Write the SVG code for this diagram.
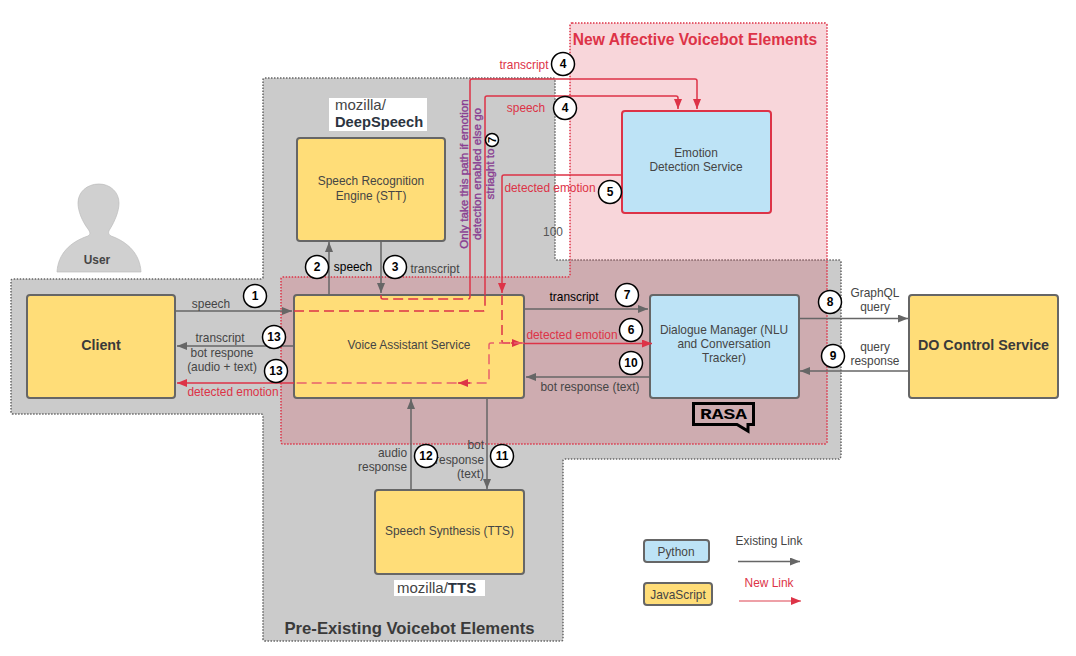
<svg xmlns="http://www.w3.org/2000/svg" width="1076" height="656" viewBox="0 0 1076 656">
<style>
text{font-family:"Liberation Sans",Arial,sans-serif;font-size:11.9px;fill:#454545;text-anchor:middle}
.k{fill:#000}.r{fill:#dd3347}.b{font-weight:bold}
.y{fill:#ffdd78;stroke:#666;stroke-width:2}
.c{fill:#bde3f6;stroke:#666;stroke-width:2}
.g{fill:none;stroke:#666;stroke-width:1.5}
.gm{marker-end:url(#ag)}
.s{fill:none;stroke:#dd3347;stroke-width:1.5}
.sm{marker-end:url(#ar)}
.d{fill:none;stroke:#dd3347;stroke-width:1.5;stroke-dasharray:10 5}
.n circle{fill:#fff;stroke:#000;stroke-width:1.5}
.n text{font-weight:bold;fill:#000;font-size:12px}
.p{fill:#8a3f92;font-size:11.6px;stroke:#8a3f92;stroke-width:.35}
</style>
<defs>
<marker id="ag" markerWidth="11" markerHeight="8" refX="10" refY="4" orient="auto" markerUnits="userSpaceOnUse"><path d="M0 0L10 4L0 8z" fill="#666"/></marker>
<marker id="ar" markerWidth="11" markerHeight="8" refX="10" refY="4" orient="auto" markerUnits="userSpaceOnUse"><path d="M0 0L10 4L0 8z" fill="#dd3347"/></marker>
</defs>
<rect width="1076" height="656" fill="#fff"/>
<g id="regions">
<path id="pre-existing" d="M265 78H553Q555 78 555 80V258Q555 260 557 260H839Q841 260 841 262V456Q841 458 839 458V459H565Q563 459 563 461V639Q563 641 561 641H265Q263 641 263 639V416Q263 414 261 414H13Q11 414 11 412V281Q11 279 13 279H261Q263 279 263 277V80Q263 78 265 78Z" fill="#cbcbcb" stroke="#666" stroke-width="1.5" stroke-dasharray="1.5 1.5"/>
<path id="new-affective" d="M572 23H825Q827 23 827 25V442Q827 444 825 444H283Q281 444 281 442V279Q281 277 283 277H568Q570 277 570 275V25Q570 23 572 23Z" fill="#dd3347" fill-opacity=".2" stroke="#dd3347" stroke-width="1.5" stroke-dasharray="1.5 1.5"/>
<text x="695" y="45" class="r b" style="font-size:15.600px">New Affective Voicebot Elements</text>
<text x="409.500" y="634" class="b" style="font-size:16.700px;fill:#3a3a3a">Pre-Existing Voicebot Elements</text>
<text x="553" y="236" style="fill:#555">100</text>
</g>
<g id="user">
<path d="M57 272C58 254 70 242 88 236C91 234 90 232 88 229C82 221 78 211 78 203C78 192 87 184 99 184C110 184 119 192 119 203C119 211 115 221 110 229C108 232 108 234 111 236C128 242 140 254 141 272Z" fill="#d0d0d0" stroke="#bbb" stroke-width=".7"/>
<text x="97" y="264" class="b">User</text>
</g>
<g id="client"><rect class="y" x="27" y="295" width="148" height="103" rx="3"/><text x="101" y="350" class="b" style="font-size:14.300px;fill:#3a3a3a">Client</text></g>
<g id="stt"><rect class="y" x="297" y="138" width="148" height="103" rx="3"/><text x="371" y="185">Speech Recognition</text><text x="371" y="200">Engine (STT)</text></g>
<g id="deepspeech"><rect x="329" y="98" width="98" height="33" fill="#fff"/><text x="335" y="110" style="font-size:15px;text-anchor:start">mozilla/</text><text x="335" y="127" class="b" style="font-size:14.700px;text-anchor:start;fill:#2b3440">DeepSpeech</text></g>
<g id="vas"><rect class="y" x="294" y="295" width="230" height="103" rx="3"/><text x="409" y="348.500">Voice Assistant Service</text></g>
<g id="emotion"><rect x="622" y="111" width="149" height="102" rx="3" fill="#bde3f6" stroke="#dd3347" stroke-width="2"/><text x="696" y="157">Emotion</text><text x="696" y="171">Detection Service</text></g>
<g id="dm"><rect class="c" x="650" y="295" width="149" height="103" rx="3"/><text x="724" y="334">Dialogue Manager (NLU</text><text x="724" y="348">and Conversation</text><text x="724" y="362">Tracker)</text></g>
<g id="rasa"><path d="M693.500 403.500H753.500V424.500H748V431L737 424.500H693.500Z" fill="none" stroke="#000" stroke-width="3"/><text transform="translate(723.500 419) scale(1.3 1)" class="k b" style="font-family:'Liberation Mono',monospace;font-size:15px">RASA</text></g>
<g id="do"><rect class="y" x="909" y="295" width="149" height="103" rx="3"/><text x="983.500" y="350" class="b" style="font-size:14.300px;fill:#3a3a3a">DO Control Service</text></g>
<g id="tts"><rect class="y" x="375" y="490" width="149" height="84" rx="3"/><text x="449.500" y="535">Speech Synthesis (TTS)</text></g>
<g id="mozilla-tts"><rect x="394" y="580" width="91" height="16" fill="#fff"/><text x="397" y="593" style="font-size:15px;text-anchor:start">mozilla/<tspan style="font-weight:bold;fill:#2b3440">TTS</tspan></text></g>
<g id="connectors">
<path class="g gm" d="M175 311H292"/>
<path class="g gm" d="M329 295V242"/>
<path class="g gm" d="M381 241V293"/>
<path class="g gm" d="M294 346H177"/>
<path class="g gm" d="M524 309H648"/>
<path class="g gm" d="M650 377H526"/>
<path class="g gm" d="M799 318.500H908"/>
<path class="g gm" d="M909 371H800"/>
<path class="g gm" d="M411 490V399"/>
<path class="g gm" d="M487 398V489"/>
<path class="d" d="M381 295V297Q381 299 383 299H468Q470 299 470 297V295"/>
<path class="s sm" d="M470 295V81Q470 79 472 79H695Q697 79 697 81V109"/>
<path class="d" d="M294 311H483Q485 311 485 309V295"/>
<path class="s sm" d="M485 295V98Q485 96 487 96H676Q678 96 678 98V109"/>
<path class="s sm" d="M622 175H504Q502 175 502 177V293"/>
<path class="d" d="M502 295V341Q502 343 504 343H511"/>
<path class="s sm" d="M511 343H522"/>
<path class="s sm" d="M524 343.500H652"/>
<path class="d" style="stroke:#e8606c" d="M524 343H491Q489 343 489 345V381Q489 383 487 383H294"/>
<path class="s sm" d="M470 383H458"/>
<path class="s sm" d="M294 383H177"/>
</g>
<g id="labels">
<text x="211" y="308">speech</text>
<text x="220" y="342">transcript</text>
<text x="222" y="357">bot respone</text>
<text x="222" y="371">(audio + text)</text>
<text x="233" y="396" class="r">detected emotion</text>
<text x="353" y="271" class="k">speech</text>
<text x="435" y="273">transcript</text>
<text x="524" y="69" class="r">transcript</text>
<text x="526" y="112" class="r">speech</text>
<text x="550" y="192" class="r">detected emotion</text>
<text x="574" y="301" class="k">transcript</text>
<text x="572" y="339" class="r">detected emotion</text>
<text x="590" y="391">bot response (text)</text>
<text x="875" y="297">GraphQL</text>
<text x="875" y="311">query</text>
<text x="875" y="351">query</text>
<text x="875" y="365">response</text>
<text x="407" y="457" style="text-anchor:end">audio</text>
<text x="407" y="471" style="text-anchor:end">response</text>
<text x="484" y="449" style="text-anchor:end">bot</text>
<text x="484" y="464" style="text-anchor:end">response</text>
<text x="484" y="478" style="text-anchor:end">(text)</text>
<text transform="translate(468 174) rotate(-90)" class="p">Only take this path if emotion</text>
<text transform="translate(481 174) rotate(-90)" class="p">detection enabled else go</text>
<text transform="translate(494 174) rotate(-90)" class="p">striaght to</text>
</g>
<g id="badges" class="n">
<g><circle cx="255" cy="296" r="11.500"/><text x="255" y="300">1</text></g>
<g><circle cx="317" cy="267" r="11.500"/><text x="317" y="271">2</text></g>
<g><circle cx="395" cy="267" r="11.500"/><text x="395" y="271">3</text></g>
<g><circle cx="563" cy="64" r="11.500"/><text x="563" y="68">4</text></g>
<g><circle cx="565" cy="108" r="11.500"/><text x="565" y="112">4</text></g>
<g><circle cx="610" cy="192" r="11.500"/><text x="610" y="196">5</text></g>
<g><circle cx="274" cy="337" r="11.500"/><text x="274" y="341">13</text></g>
<g><circle cx="276" cy="371" r="11.500"/><text x="276" y="375">13</text></g>
<g><circle cx="627" cy="295" r="11.500"/><text x="627" y="299">7</text></g>
<g><circle cx="631" cy="330" r="11.500"/><text x="631" y="334">6</text></g>
<g><circle cx="631" cy="363" r="11.500"/><text x="631" y="367">10</text></g>
<g><circle cx="830" cy="302" r="11.500"/><text x="830" y="306">8</text></g>
<g><circle cx="833" cy="356" r="11.500"/><text x="833" y="360">9</text></g>
<g><circle cx="426" cy="456" r="11.500"/><text x="426" y="460">12</text></g>
<g><circle cx="502" cy="456" r="11.500"/><text x="502" y="460">11</text></g>
<g><circle cx="492" cy="140" r="6.500"/><text transform="translate(496 140) rotate(-90)" style="font-size:11px">7</text></g>
</g>
<g id="legend">
<g id="legend-python"><rect class="c" x="644" y="540" width="65" height="22" rx="3"/><text x="676" y="556">Python</text></g>
<g id="legend-js"><rect class="y" x="644" y="583" width="68" height="22" rx="3"/><text x="678" y="599">JavaScript</text></g>
<text x="769" y="545">Existing Link</text>
<path class="g gm" d="M738 561.500H800"/>
<text x="769" y="587" class="r">New Link</text>
<path class="s sm" style="stroke:#e8808a" d="M739 601H801"/>
</g>
</svg>
